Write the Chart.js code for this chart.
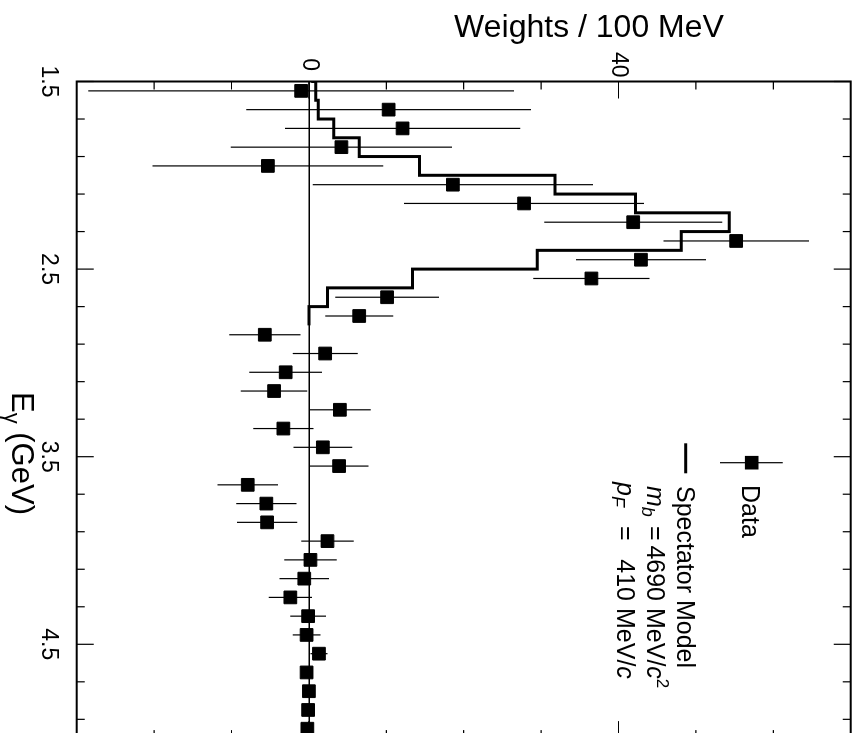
<!DOCTYPE html>
<html>
<head>
<meta charset="utf-8">
<script src="https://cdn.jsdelivr.net/npm/chart.js@4.4.1/dist/chart.umd.min.js"></script>
<style>
  html, body { margin: 0; padding: 0; width: 859px; height: 733px; overflow: hidden; background: #fff; }
  /* the plot is drawn upright and then turned a quarter turn clockwise */
  #wrap { position: absolute; left: 0; top: 0; width: 745px; height: 859px;
          transform-origin: 0 0; transform: translateX(859px) rotate(90deg); }
</style>
</head>
<body>
<div id="wrap"><canvas id="plot" width="745" height="859"></canvas></div>
<script>
// --- data (E_gamma bin centres in GeV, weights per 100 MeV) ---
const energies = [1.55, 1.65, 1.75, 1.85, 1.95, 2.05, 2.15, 2.25, 2.35, 2.45, 2.55, 2.65, 2.75, 2.85, 2.95,
                  3.05, 3.15, 3.25, 3.35, 3.45, 3.55, 3.65, 3.75, 3.85, 3.95, 4.05, 4.15, 4.25, 4.35, 4.45,
                  4.55, 4.65, 4.75, 4.85, 4.95];
const weights = [-1.0, 10.3, 12.1, 4.2, -5.3, 18.6, 27.8, 41.9, 55.2, 42.9, 36.5, 10.1, 6.5, -5.7, 2.1,
                 -3.0, -4.5, 4.0, -3.3, 1.8, 3.9, -7.9, -5.5, -5.4, 2.4, 0.2, -0.6, -2.4, -0.1, -0.3,
                 1.3, -0.3, 0.0, -0.1, -0.2];
const errors = [27.5, 18.4, 15.2, 14.3, 14.9, 18.1, 15.5, 11.5, 9.4, 8.4, 7.5, 6.7, 4.4, 4.6, 4.2,
                4.7, 4.3, 4.0, 3.9, 3.8, 3.8, 3.9, 3.9, 3.9, 3.4, 3.4, 3.2, 2.8, 2.3, 1.8,
                1.1, 0.7, 0.5, 0.4, 0.4];

// spectator model histogram: lower bin edges and contents
const modelEdges = [1.5, 1.6, 1.7, 1.8, 1.9, 2.0, 2.1, 2.2, 2.3, 2.4, 2.5, 2.6, 2.7, 2.8];
const modelWeights = [0.3, 0.9, 1.2, 3.2, 6.5, 14.3, 31.8, 42.2, 54.3, 48.1, 29.5, 13.4, 2.4, 0];

// axes
const eMajorTicks = [1.5, 2.5, 3.5, 4.5];
const eTickLabels = ['1.5', '2.5', '3.5', '4.5'];
const eMinorTicks = [1.7, 1.9, 2.1, 2.3, 2.7, 2.9, 3.1, 3.3, 3.7, 3.9, 4.1, 4.3, 4.7, 4.9];
const wMajorTicks = [0, 40];
const wTickLabels = ['0', '40'];
const wMinorTicks = [-20, -10, 10, 20, 30, 50, 60];

const FONT = "'Liberation Sans', Arial, Helvetica, sans-serif";

// --- plugins ---
const errorBars = {
    id: 'errorBars',
    beforeDatasetsDraw(chart) {
        const { ctx, chartArea: a, scales: { x, y } } = chart;
        ctx.save();
        ctx.beginPath();
        ctx.rect(a.left, a.top, a.width, a.height);
        ctx.clip();
        ctx.strokeStyle = '#000';
        ctx.lineWidth = 1.2;
        energies.forEach((e, i) => {
            const px = x.getPixelForValue(e);
            ctx.beginPath();
            ctx.moveTo(px, y.getPixelForValue(weights[i] - errors[i]));
            ctx.lineTo(px, y.getPixelForValue(weights[i] + errors[i]));
            ctx.stroke();
        });
        ctx.restore();
    }
};

const frameTicks = {
    id: 'frameTicks',
    afterDraw(chart) {
        const { ctx, chartArea: a, scales: { x, y } } = chart;
        ctx.save();
        ctx.strokeStyle = '#000';
        ctx.lineWidth = 1.2;
        const eTick = (v, len) => {
            const px = x.getPixelForValue(v);
            ctx.beginPath();
            ctx.moveTo(px, a.bottom); ctx.lineTo(px, a.bottom - len);
            ctx.moveTo(px, a.top); ctx.lineTo(px, a.top + len);
            ctx.stroke();
        };
        const wTick = (v, len) => {
            const py = y.getPixelForValue(v);
            ctx.beginPath();
            ctx.moveTo(a.left, py); ctx.lineTo(a.left + len, py);
            ctx.moveTo(a.right, py); ctx.lineTo(a.right - len, py);
            ctx.stroke();
        };
        eMajorTicks.forEach(v => eTick(v, 17));
        eMinorTicks.forEach(v => eTick(v, 8));
        wMajorTicks.forEach(v => wTick(v, 17));
        wMinorTicks.forEach(v => wTick(v, 8));
        ctx.lineWidth = 2;
        ctx.strokeRect(a.left, a.top, a.width, a.height);
        ctx.restore();
    }
};

const texts = {
    id: 'texts',
    afterDraw(chart) {
        const { ctx } = chart;
        ctx.save();
        ctx.fillStyle = '#000';
        ctx.textBaseline = 'alphabetic';

        // weights axis title (reads upright once the page is turned)
        ctx.save();
        ctx.translate(37, 270);
        ctx.rotate(-Math.PI / 2);
        ctx.font = `32px ${FONT}`;
        ctx.textAlign = 'center';
        ctx.fillText('Weights / 100 MeV', 0, 0);
        ctx.restore();

        // energy axis title
        ctx.textAlign = 'left';
        let cx = 392;
        ctx.font = `31px ${FONT}`;
        ctx.fillText('E', cx, 847);
        cx += ctx.measureText('E').width;
        ctx.font = `22px ${FONT}`;
        ctx.fillText('\u03B3', cx, 854);
        cx += ctx.measureText('\u03B3').width;
        ctx.font = `31px ${FONT}`;
        ctx.fillText(' (GeV)', cx, 847);

        // legend
        ctx.fillRect(462.7 - 6.8, 107.3 - 6.8, 13.6, 13.6);
        ctx.strokeStyle = '#000';
        ctx.lineWidth = 1.2;
        ctx.beginPath();
        ctx.moveTo(462.7, 76.3); ctx.lineTo(462.7, 139);
        ctx.stroke();
        ctx.lineWidth = 3;
        ctx.beginPath();
        ctx.moveTo(443.3, 173.3); ctx.lineTo(473.3, 173.3);
        ctx.stroke();

        ctx.font = `25px ${FONT}`;
        ctx.fillText('Data', 485, 117);
        ctx.fillText('Spectator Model', 486, 181.5);

        const run = (parts, x0, base) => {
            let px = x0;
            parts.forEach(([t, font, dy]) => {
                ctx.font = font;
                ctx.fillText(t, px, base + dy);
                px += ctx.measureText(t).width;
            });
        };
        const it = `italic 25px ${FONT}`, itSmall = `italic 18px ${FONT}`;
        const up = `25px ${FONT}`, small = `17px ${FONT}`;

        run([['m', it, 0], ['b', itSmall, 5]], 486, 212);
        ctx.font = up; ctx.fillText('=', 526, 212);
        ctx.textAlign = 'right'; ctx.fillText('4690', 601, 212); ctx.textAlign = 'left';
        run([['MeV/', up, 0], ['c', it, 0], ['2', small, -10]], 608, 212);

        run([['p', it, 0], ['F', itSmall, 5]], 482, 242);
        ctx.font = up; ctx.fillText('=', 526, 242);
        ctx.textAlign = 'right'; ctx.fillText('410', 601, 242); ctx.textAlign = 'left';
        run([['MeV/', up, 0], ['c', it, 0]], 608, 242);

        ctx.restore();
    }
};

// --- chart ---
const tickFont = { family: FONT, size: 23 };

new Chart(document.getElementById('plot').getContext('2d'), {
    type: 'scatter',
    data: {
        datasets: [
            {
                label: 'Data',
                data: energies.map((e, i) => ({ x: e, y: weights[i] })),
                pointStyle: 'rect',
                pointRadius: 9,
                backgroundColor: '#000',
                borderColor: '#000',
                borderWidth: 1,
                showLine: false
            },
            {
                label: 'Spectator Model',
                type: 'line',
                data: modelEdges.map((e, i) => ({ x: e, y: modelWeights[i] })),
                stepped: 'after',
                borderColor: '#000',
                borderWidth: 3,
                pointRadius: 0,
                fill: false
            }
        ]
    },
    options: {
        responsive: false,
        animation: false,
        layout: { autoPadding: false, padding: { top: 8.3, right: 6.9, left: 0, bottom: 0 } },
        plugins: { legend: { display: false }, tooltip: { enabled: false } },
        scales: {
            x: {
                type: 'linear',
                min: 1.5,
                max: 5.0,
                afterBuildTicks: s => {
                    s.ticks = [...eMajorTicks, ...eMinorTicks].sort((p, q) => p - q).map(v => ({ value: v }));
                },
                afterFit: s => { s.height = 76.7; s.paddingLeft = 0; s.paddingRight = 0; },
                ticks: {
                    autoSkip: false,
                    maxRotation: 0,
                    padding: 7,
                    color: '#000',
                    font: tickFont,
                    callback: v => {
                        const k = eMajorTicks.indexOf(v);
                        return k >= 0 ? eTickLabels[k] : null;
                    }
                },
                grid: { display: false },
                border: { display: false }
            },
            y: {
                type: 'linear',
                min: -30,
                max: 70,
                afterBuildTicks: s => {
                    s.ticks = [-30, ...wMinorTicks, ...wMajorTicks, 70].sort((p, q) => p - q).map(v => ({ value: v }));
                },
                afterFit: s => { s.width = 81.5; s.paddingTop = 0; s.paddingBottom = 0; },
                ticks: {
                    autoSkip: false,
                    crossAlign: 'center',
                    padding: 4,
                    color: '#000',
                    font: tickFont,
                    callback: v => {
                        const k = wMajorTicks.indexOf(v);
                        return k >= 0 ? wTickLabels[k] : null;
                    }
                },
                grid: {
                    drawTicks: false,
                    lineWidth: 1.5,
                    color: c => (c.tick && c.tick.value === 0 ? '#000' : 'rgba(0,0,0,0)')
                },
                border: { display: false }
            }
        }
    },
    plugins: [errorBars, frameTicks, texts]
});
</script>
</body>
</html>
